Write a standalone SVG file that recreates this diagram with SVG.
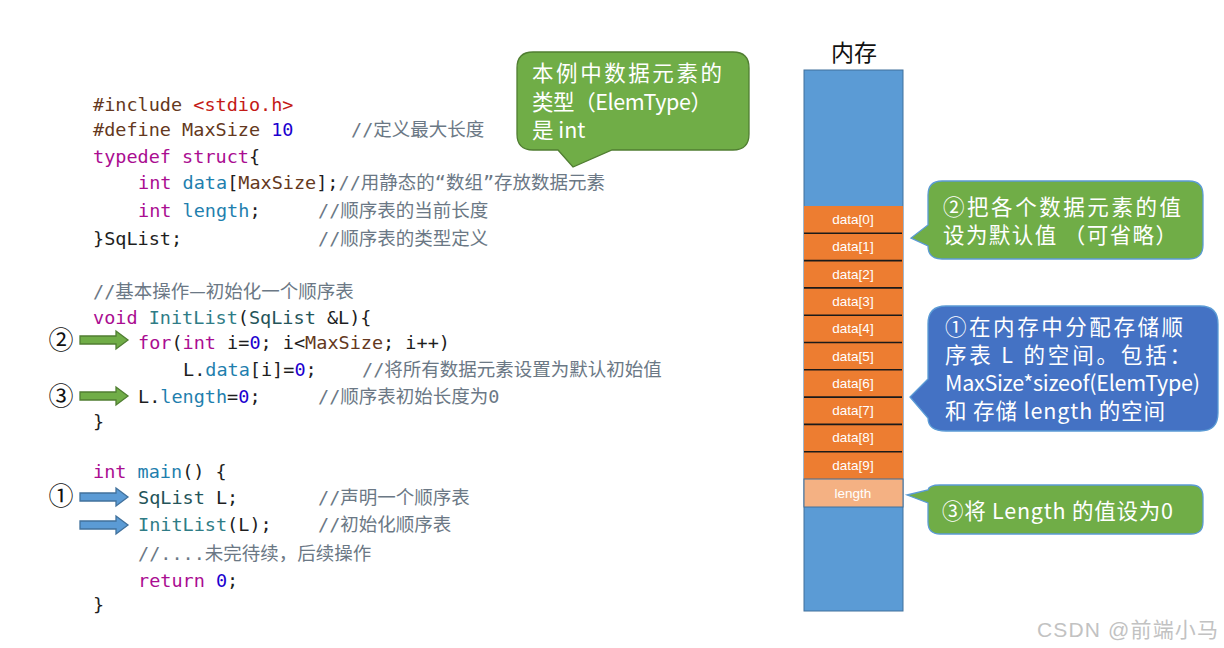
<svg xmlns="http://www.w3.org/2000/svg" width="1224" height="648" viewBox="0 0 1224 648">
<style>
.code{font-family:"DejaVu Sans Mono","Noto Sans CJK SC",monospace;font-size:18.5px;fill:#1e1e1e;white-space:pre}
.cjk{font-family:"Noto Sans CJK SC",sans-serif}
.pp{fill:#643820}.str{fill:#c41a16}.num{fill:#1c00cf}.kw{fill:#aa0d91}.mem{fill:#1f7fae}.fn{fill:#2f7c86}.ty{fill:#245459}
.cm{fill:#6b7885}
.ct{font-family:"Noto Sans CJK SC","Noto Sans",sans-serif;font-size:21.5px;fill:#ffffff}
.cell{fill:#ed7d31}
.ctext{font-family:"Liberation Sans","Noto Sans",sans-serif;font-size:13.5px;fill:#ffffff;text-anchor:middle}
.div{stroke:#1a1a1a;stroke-width:1.6}
.ga{fill:#70ad47;stroke:#507e32;stroke-width:1.3}
.ba{fill:#5b9bd5;stroke:#41719c;stroke-width:1.3}
.num2{font-family:"Noto Sans CJK SC","DejaVu Sans",sans-serif;font-size:25px;fill:#111;text-anchor:middle}
</style>
<rect width="1224" height="648" fill="#ffffff"/>

<g id="code">
<text class="code" x="93" y="111"><tspan class="pp">#include </tspan><tspan class="str">&lt;stdio.h&gt;</tspan></text>
<text class="code" x="93" y="136"><tspan class="pp">#define MaxSize </tspan><tspan class="num">10</tspan></text>
<text class="code cm" x="351" y="136">//定义最大长度</text>
<text class="code" x="93" y="163"><tspan class="kw">typedef struct</tspan>{</text>
<text class="code" x="138" y="189"><tspan class="kw">int</tspan> <tspan class="mem">data</tspan>[<tspan class="pp">MaxSize</tspan>];<tspan class="cm">//用静态的“数组”存放数据元素</tspan></text>
<text class="code" x="138" y="217"><tspan class="kw">int</tspan> <tspan class="mem">length</tspan>;</text>
<text class="code cm" x="318" y="217">//顺序表的当前长度</text>
<text class="code" x="93" y="245">}SqList;</text>
<text class="code cm" x="318" y="245">//顺序表的类型定义</text>
<text class="code cm" x="93" y="298">//基本操作<tspan class="cjk">—</tspan>初始化一个顺序表</text>
<text class="code" x="93" y="324"><tspan class="kw">void</tspan> <tspan class="fn">InitList</tspan>(<tspan class="ty">SqList</tspan> &amp;L){</text>
<text class="code" x="138" y="349"><tspan class="kw">for</tspan>(<tspan class="kw">int</tspan> i=<tspan class="num">0</tspan>; i&lt;<tspan class="pp">MaxSize</tspan>; i++)</text>
<text class="code" x="183" y="376">L.<tspan class="mem">data</tspan>[i]=<tspan class="num">0</tspan>;</text>
<text class="code cm" x="362" y="376">//将所有数据元素设置为默认初始值</text>
<text class="code" x="138" y="403">L.<tspan class="mem">length</tspan>=<tspan class="num">0</tspan>;</text>
<text class="code cm" x="318" y="403">//顺序表初始长度为0</text>
<text class="code" x="93" y="428">}</text>
<text class="code" x="93" y="478"><tspan class="kw">int</tspan> <tspan class="mem">main</tspan>() {</text>
<text class="code" x="138" y="504"><tspan class="ty">SqList</tspan> L;</text>
<text class="code cm" x="318" y="504">//声明一个顺序表</text>
<text class="code" x="138" y="531"><tspan class="fn">InitList</tspan>(L);</text>
<text class="code cm" x="318" y="531">//初始化顺序表</text>
<text class="code cm" x="138" y="560">//....未完待续，后续操作</text>
<text class="code" x="138" y="587"><tspan class="kw">return</tspan> <tspan class="num">0</tspan>;</text>
<text class="code" x="93" y="611">}</text>
</g>

<g id="step-labels">
<text class="num2" x="61" y="349">②</text>
<text class="num2" x="61" y="405">③</text>
<text class="num2" x="61" y="505">①</text>
</g>

<g id="connectors">
<path class="ga" d="M80,336 H116 V331 L128,340 L116,349 V344 H80 Z"/>
<path class="ga" d="M80,392 H116 V387 L128,396 L116,405 V400 H80 Z"/>
<path class="ba" d="M80,493 H116 V488 L128,497 L116,506 V501 H80 Z"/>
<path class="ba" d="M80,521 H116 V516 L128,525 L116,534 V529 H80 Z"/>
</g>

<g id="callout-elemtype">
<path d="M533,52 H733 Q749,52 749,68 V134 Q749,150 733,150 H612 L573,167 L558,150 H533 Q517,150 517,134 V68 Q517,52 533,52 Z" fill="#70ad47" stroke="#507e32" stroke-width="1.3"/>
<text class="ct" x="532" y="81" textLength="190" lengthAdjust="spacing">本例中数据元素的</text>
<text class="ct" x="532" y="110" textLength="180" lengthAdjust="spacing">类型（ElemType）</text>
<text class="ct" x="532" y="138">是 int</text>
</g>

<g id="memory">
<text x="854" y="61" font-family="Noto Sans CJK SC, sans-serif" font-size="23" fill="#111" text-anchor="middle">内存</text>
<rect x="804" y="70" width="99" height="541" fill="#5b9bd5" stroke="#41719c" stroke-width="1"/>
<rect class="cell" x="804" y="206" width="99" height="273"/>
<rect x="804" y="479" width="99" height="28" fill="#f4b183" stroke="#41719c" stroke-width="1"/>
<g>
<line class="div" x1="804" y1="233.3" x2="902" y2="233.3"/>
<line class="div" x1="804" y1="260.6" x2="902" y2="260.6"/>
<line class="div" x1="804" y1="287.9" x2="902" y2="287.9"/>
<line class="div" x1="804" y1="315.2" x2="902" y2="315.2"/>
<line class="div" x1="804" y1="342.5" x2="902" y2="342.5"/>
<line class="div" x1="804" y1="369.8" x2="902" y2="369.8"/>
<line class="div" x1="804" y1="397.1" x2="902" y2="397.1"/>
<line class="div" x1="804" y1="424.4" x2="902" y2="424.4"/>
<line class="div" x1="804" y1="451.7" x2="902" y2="451.7"/>
</g>
<text class="ctext" x="853" y="224">data[0]</text>
<text class="ctext" x="853" y="251.3">data[1]</text>
<text class="ctext" x="853" y="278.6">data[2]</text>
<text class="ctext" x="853" y="305.9">data[3]</text>
<text class="ctext" x="853" y="333.2">data[4]</text>
<text class="ctext" x="853" y="360.5">data[5]</text>
<text class="ctext" x="853" y="387.8">data[6]</text>
<text class="ctext" x="853" y="415.1">data[7]</text>
<text class="ctext" x="853" y="442.4">data[8]</text>
<text class="ctext" x="853" y="469.7">data[9]</text>
<text class="ctext" x="853" y="498">length</text>
</g>

<g id="callout-step2">
<path d="M942,181 H1189 Q1203,181 1203,195 V245 Q1203,259 1189,259 H942 Q928,259 928,246 L911,238 L928,225 V195 Q928,181 942,181 Z" fill="#70ad47" stroke="#5b9bd5" stroke-width="1.3"/>
<text class="ct" x="943" y="215" textLength="238" lengthAdjust="spacing">②把各个数据元素的值</text>
<text class="ct" x="943" y="243" textLength="234" lengthAdjust="spacing">设为默认值 （可省略）</text>
</g>

<g id="callout-step1">
<path d="M946,306 H1200 Q1218,306 1218,324 V413 Q1218,431 1200,431 H946 Q928,431 928,418 L910,397 L928,379 V324 Q928,306 946,306 Z" fill="#4472c4" stroke="#5b9bd5" stroke-width="1.3"/>
<text class="ct" x="945" y="335" textLength="238" lengthAdjust="spacing">①在内存中分配存储顺</text>
<text class="ct" x="945" y="363" textLength="246" lengthAdjust="spacing">序表 L 的空间。包括：</text>
<text class="ct" x="945" y="391" textLength="255" lengthAdjust="spacing">MaxSize*sizeof(ElemType)</text>
<text class="ct" x="945" y="419" textLength="220" lengthAdjust="spacing">和 存储 length 的空间</text>
</g>

<g id="callout-step3">
<path d="M940,485 H1191 Q1203,485 1203,497 V522 Q1203,534 1191,534 H940 Q928,534 928,522 V503 L907,495 L928,490 Q929,485 940,485 Z" fill="#70ad47" stroke="#5b9bd5" stroke-width="1.3"/>
<text class="ct" x="942" y="519" textLength="231" lengthAdjust="spacing">③将 Length 的值设为0</text>
</g>

<text x="1037" y="637" font-family="Liberation Sans, Noto Sans CJK SC, sans-serif" font-size="21" fill="#c2c2c2" textLength="181" lengthAdjust="spacing">CSDN @前端小马</text>
</svg>
